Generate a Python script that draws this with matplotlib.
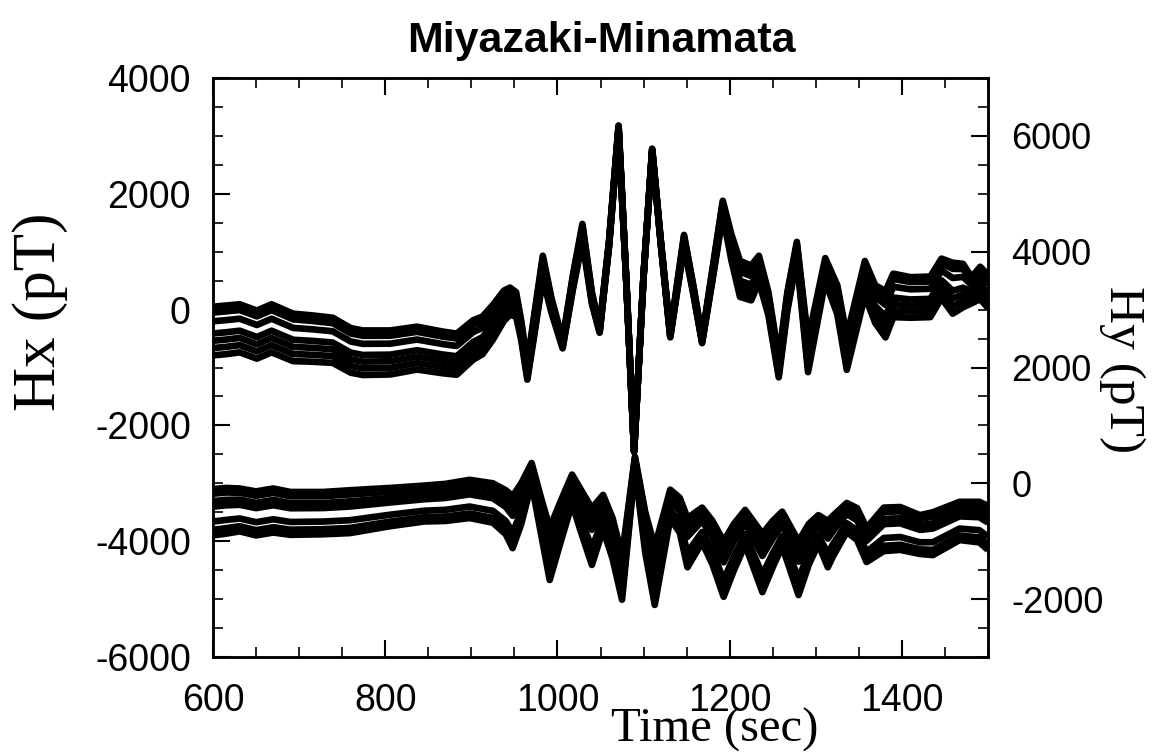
import matplotlib
matplotlib.use('Agg')
import matplotlib.pyplot as plt
from matplotlib.ticker import MultipleLocator
import numpy as np

# ---------------- data ----------------
# Hx traces: upper trace of the bundle and the spread down to the lowest trace
t_hx = [600, 615, 631, 651, 668, 693, 715, 739, 760, 774, 806, 837, 867, 883,
        902, 913, 925, 938, 945, 952, 958, 965, 972, 983, 993, 1006, 1018,
        1029, 1040, 1049, 1060, 1071, 1080, 1089, 1100, 1110, 1120, 1131, 1147,
        1158, 1168, 1180, 1192, 1202, 1212, 1225, 1234, 1245, 1257, 1267, 1278,
        1291, 1311, 1325, 1336, 1357, 1369, 1381, 1390, 1410, 1433, 1446, 1459,
        1471, 1481, 1491, 1500]
hx_top = [50, 70, 92, -17, 92, -70, -100, -140, -320, -360, -360, -295, -380,
          -415, -185, -120, 80, 330, 380, 300, -200, -930, -200, 930, 200,
          -520, 600, 1480, 300, -300, 1200, 3180, 500, -2450, 600, 2780, 1200,
          -400, 1290, 400, -480, 700, 1880, 1300, 840, 760, 930, 300, -830, 300,
          1170, -520, 890, 420, -460, 840, 420, 320, 620, 560, 570, 880, 810,
          790, 560, 740, 600]
hx_spread = [840, 840, 830, 830, 830, 820, 800, 780, 770, 770, 760, 740, 720,
             710, 680, 650, 600, 520, 470, 420, 330, 280, 350, 400, 250, 150,
             250, 300, 200, 100, 100, 80, 50, 0, 40, 60, 70, 80, 200, 150, 100,
             200, 250, 450, 620, 600, 450, 400, 340, 320, 300, 560, 400, 500,
             580, 600, 650, 800, 750, 700, 700, 680, 880, 750, 450, 560, 570]
hx_frac = [0.0, 0.12, 0.30, 0.55, 0.70, 0.85, 1.0]

# Hy traces (right axis)
t_hy = [600, 615, 631, 650, 670, 690, 728, 759, 806, 845, 870, 898, 925, 940,
        948, 958, 970, 980, 991, 1004, 1017, 1026, 1040, 1053, 1064, 1075,
        1090, 1102, 1113, 1131, 1142, 1151, 1168, 1180, 1193, 1205, 1218, 1238,
        1250, 1261, 1280, 1292, 1303, 1314, 1320, 1336, 1348, 1359, 1379, 1398,
        1421, 1436, 1467, 1490, 1500]
hy_top = [-100, -80, -90, -140, -90, -150, -150, -120, -80, -40, -10, 60, 0,
          -120, -220, 0, 350, -200, -770, -300, 150, -80, -430, -200, -600,
          -1250, 460, -500, -1100, -110, -250, -600, -420, -650, -1000, -700,
          -460, -870, -650, -490, -1000, -700, -550, -650, -560, -340, -430,
          -770, -420, -410, -550, -500, -320, -320, -390]
hy_spread = [800, 790, 740, 760, 760, 740, 730, 740, 660, 620, 640, 660, 680,
             760, 900, 700, 350, 600, 900, 700, 500, 700, 980, 600, 700, 760,
             200, 700, 1000, 500, 600, 850, 600, 750, 960, 800, 600, 1010, 800,
             600, 930, 700, 500, 800, 700, 500, 550, 590, 750, 740, 670, 740,
             660, 700, 760]
hy_frac = [0.0, 0.10, 0.26, 0.38, 0.70, 0.88, 1.0]

title = 'Miyazaki-Minamata'
xlabel = 'Time (sec)'
ylabel_left = 'Hx (pT)'
ylabel_right = 'Hy (pT)'

# ---------------- figure ----------------
plt.rcParams['axes.unicode_minus'] = False
plt.rcParams['font.family'] = ['Liberation Sans', 'DejaVu Sans']

fig = plt.figure(figsize=(11.6, 7.55), dpi=100)
ax = fig.add_axes([213/1160, 1-657/755, (988-213)/1160, (657-78)/755])
ax2 = ax.twinx()

hx_top_a = np.array(hx_top, float)
hx_spread_a = np.array(hx_spread, float)
for f in hx_frac:
    ax.plot(t_hx, hx_top_a - f*hx_spread_a, color='black', lw=4.8,
            solid_joinstyle='round', solid_capstyle='butt')

hy_top_a = np.array(hy_top, float)
hy_spread_a = np.array(hy_spread, float)
for f in hy_frac:
    ax2.plot(t_hy, hy_top_a - f*hy_spread_a, color='black', lw=4.8,
             solid_joinstyle='round', solid_capstyle='butt')

ax.set_xlim(600, 1500)
ax.set_ylim(-6000, 4000)
ax2.set_ylim(-3000, 7000)

ax.xaxis.set_major_locator(MultipleLocator(200))
ax.xaxis.set_minor_locator(MultipleLocator(50))
ax.yaxis.set_major_locator(MultipleLocator(2000))
ax.yaxis.set_minor_locator(MultipleLocator(500))
ax2.yaxis.set_major_locator(MultipleLocator(2000))
ax2.yaxis.set_minor_locator(MultipleLocator(500))

ax.tick_params(axis='x', which='both', direction='in', top=True, bottom=True,
               labelsize=27, pad=19)
ax.tick_params(axis='y', which='both', direction='in', left=True, right=False,
               labelsize=27, pad=16)
ax2.tick_params(axis='y', which='both', direction='in', right=True,
                labelsize=26, pad=17)
for a in (ax, ax2):
    a.tick_params(which='major', length=12, width=1.5, color='black')
    a.tick_params(which='minor', length=7, width=1.2, color='black')
    for s in a.spines.values():
        s.set_linewidth(1.8)

fig.text(601/1160, 1-52/755, title, ha='center', va='baseline',
         fontsize=31, fontweight='bold', family='Liberation Sans')
fig.text(715/1160, 1-742/755, xlabel, ha='center', va='baseline',
         fontsize=35, family='Liberation Serif')
fig.text(40/1160, 1-312/755, ylabel_left, ha='center', va='center',
         rotation=90, fontsize=44, family='Liberation Serif')
fig.text(1122/1160, 1-370/755, ylabel_right, ha='center', va='center',
         rotation=-90, fontsize=37, family='Liberation Serif')

fig.savefig('out.png', dpi=100)
